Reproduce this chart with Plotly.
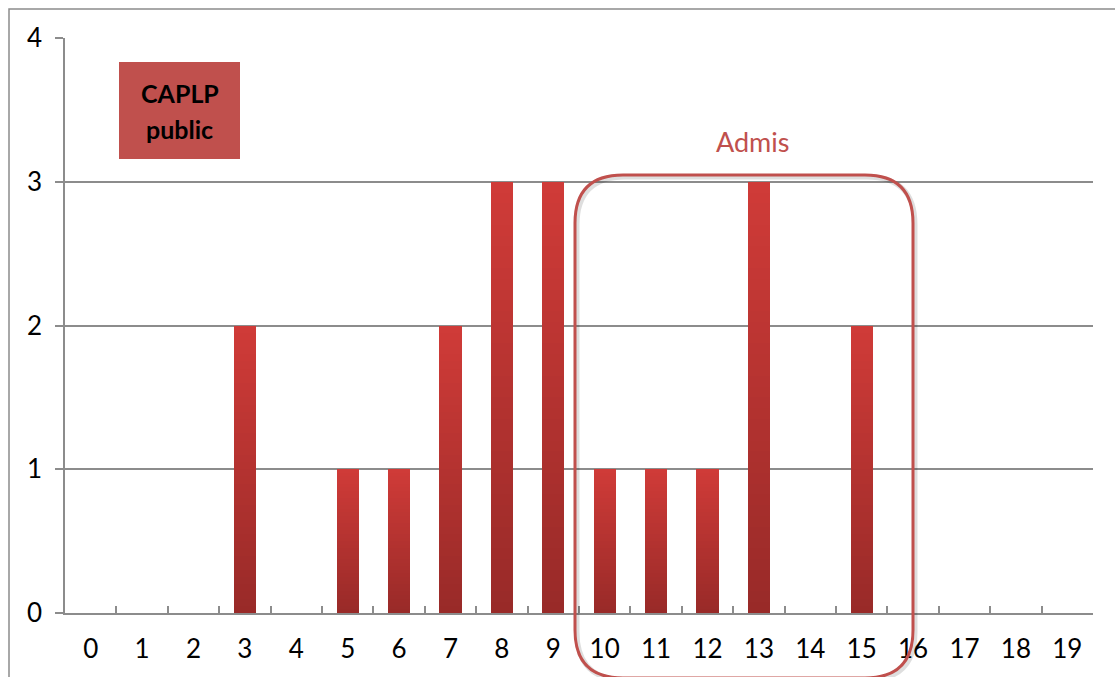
import plotly.graph_objects as go

# Score distribution (number of candidates per mark)
marks = [str(m) for m in range(20)]
counts = [0, 0, 0, 2, 0, 1, 1, 2, 3, 3, 1, 1, 1, 3, 0, 2, 0, 0, 0, 0]
y_ticks = [0, 1, 2, 3, 4]

W, H = 1115, 677
ML, MR, MT, MB = 65, 22, 38, 64
PW, PH = W - ML - MR, H - MT - MB


def px(x):
    return (x - ML) / PW


def py(y):
    return (H - MB - y) / PH


# Vertical gradient on every bar: stack thin slices, dark at the base, light at the top
N_SLICES = 40
bottom_rgb = (152, 42, 40)
top_rgb = (208, 59, 56)

fig = go.Figure()
for i in range(N_SLICES):
    t = (i + 0.5) / N_SLICES
    c = tuple(round(b + (tp - b) * t) for b, tp in zip(bottom_rgb, top_rgb))
    fig.add_trace(go.Bar(
        x=marks,
        y=[v / N_SLICES for v in counts],
        width=0.43,
        marker=dict(color=f"rgb{c}", line=dict(width=0)),
        showlegend=False,
        hoverinfo="skip",
    ))

grey = "#8c8c8c"
shapes = []

# outer chart frame
shapes.append(dict(type="rect", xref="paper", yref="paper",
                   x0=px(9), x1=px(1130), y0=py(700), y1=py(9),
                   line=dict(color=grey, width=1.5), layer="below"))

# title box
shapes.append(dict(type="rect", xref="paper", yref="paper",
                   x0=px(119), x1=px(240), y0=py(159), y1=py(62),
                   fillcolor="#c0504d", line=dict(width=0), layer="above"))


def rounded_path(l, r, t, b, rad):
    pts = [
        ("M", [(l + rad, t)]),
        ("L", [(r - rad, t)]),
        ("Q", [(r, t), (r, t + rad)]),
        ("L", [(r, b - rad)]),
        ("Q", [(r, b), (r - rad, b)]),
        ("L", [(l + rad, b)]),
        ("Q", [(l, b), (l, b - rad)]),
        ("L", [(l, t + rad)]),
        ("Q", [(l, t), (l + rad, t)]),
    ]
    s = ""
    for cmd, ps in pts:
        s += cmd + " " + " ".join(f"{px(a):.5f},{py(c):.5f}" for a, c in ps) + " "
    return s + "Z"


# soft shadow under the highlight frame
shapes.append(dict(type="path", xref="paper", yref="paper",
                   path=rounded_path(577, 915, 177, 680, 48),
                   line=dict(color="rgba(0,0,0,0.13)", width=5), layer="above"))
# highlight frame around admitted marks
shapes.append(dict(type="path", xref="paper", yref="paper",
                   path=rounded_path(575, 913, 175, 678, 48),
                   line=dict(color="#c0504d", width=3), layer="above"))

annotations = [
    dict(xref="paper", yref="paper", x=px(179.5), y=py(93), text="<b>CAPLP</b>",
         showarrow=False, font=dict(family="Lato", size=25, color="black"),
         xanchor="center", yanchor="middle"),
    dict(xref="paper", yref="paper", x=px(179.5), y=py(129), text="<b>public</b>",
         showarrow=False, font=dict(family="Lato", size=25, color="black"),
         xanchor="center", yanchor="middle"),
    dict(xref="paper", yref="paper", x=px(752), y=py(141), text="Admis",
         showarrow=False, font=dict(family="Lato", size=27, color="#c0504d"),
         xanchor="center", yanchor="middle"),
]

fig.update_layout(
    width=W, height=H, autosize=False,
    margin=dict(l=ML, r=MR, t=MT, b=MB, pad=0),
    paper_bgcolor="white", plot_bgcolor="white",
    barmode="stack", bargap=0,
    font=dict(family="Lato", size=26, color="black"),
    shapes=shapes, annotations=annotations,
    xaxis=dict(
        type="category", categoryorder="array", categoryarray=marks,
        range=[-0.5, 19.5], automargin=False,
        tickson="boundaries", ticks="inside", ticklen=7, tickwidth=1.5, tickcolor=grey,
        showline=True, linecolor=grey, linewidth=1.5,
        showgrid=False, zeroline=False,
        tickfont=dict(size=26), ticklabelstandoff=12,
        fixedrange=True,
    ),
    yaxis=dict(
        range=[0, 4], tickvals=y_ticks, ticktext=[str(v) for v in y_ticks],
        automargin=False,
        ticks="outside", ticklen=8, tickwidth=1.5, tickcolor=grey,
        showline=True, linecolor=grey, linewidth=1.5,
        showgrid=True, gridcolor=grey, gridwidth=1.5, zeroline=False,
        tickfont=dict(size=26), ticklabelstandoff=8,
        fixedrange=True,
    ),
)

fig.write_html("out.html")
